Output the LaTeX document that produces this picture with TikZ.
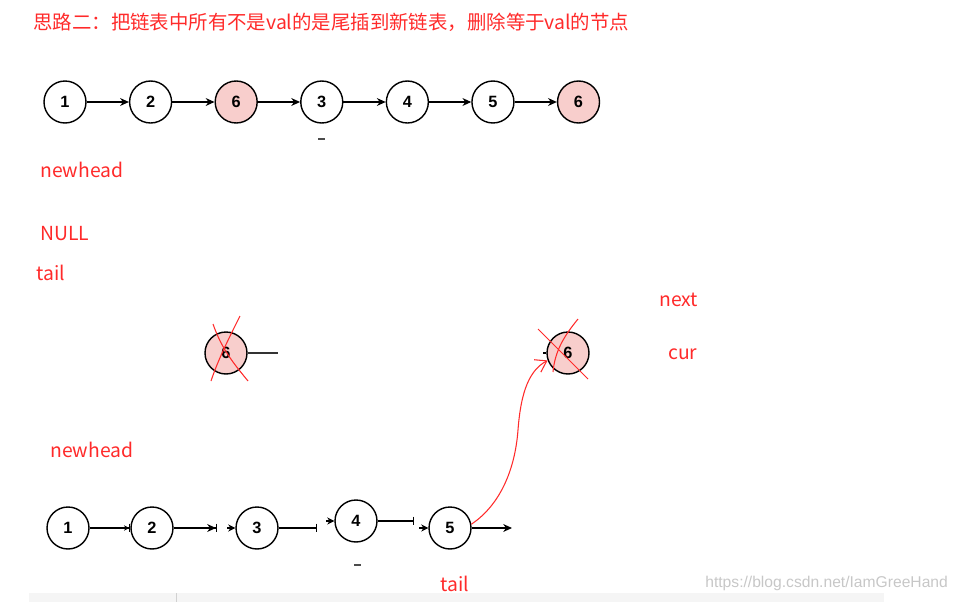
\documentclass[tikz,border=0pt]{standalone}
\usepackage{fontspec}
\setmainfont{Liberation Sans}
\newfontfamily\cjk{Noto Sans CJK SC}
\usepackage{tikz}
\usetikzlibrary{arrows.meta, positioning}
\definecolor{pen}{HTML}{FF2A2A}
\definecolor{delfill}{HTML}{F8CECC}

\begin{document}
\begin{tikzpicture}[x=0.02cm, y=-0.02cm, node distance=0.844cm,
  lnode/.style={circle, draw, line width=0.8pt, minimum size=0.84cm, inner sep=0pt, font=\bfseries\fontsize{9.3}{10}\selectfont},
  dnode/.style={lnode, fill=delfill},
  link/.style={-{Stealth[length=5pt,width=4.5pt]}, line width=0.6pt},
  stub/.style={-{Stealth[length=4pt,width=4pt]}, line width=0.6pt},
  note/.style={text=pen, font=\cjk\fontsize{11}{13}\selectfont, anchor=west, inner sep=0pt},
  cross/.style={pen, line width=0.6pt}]
\useasboundingbox (0,0) rectangle (958,602);

\node[note, font=\cjk\fontsize{11.05}{13}\selectfont] (title) at (33,22) {思路二：把链表中所有不是val的是尾插到新链表，删除等于val的节点};

\node[lnode] (a1) at (65,102) {1};
\node[lnode, right=of a1] (a2) {2};
\node[dnode, right=of a2] (a3) {6};
\node[lnode, right=of a3] (a4) {3};
\node[lnode, right=of a4] (a5) {4};
\node[lnode, right=of a5] (a6) {5};
\node[dnode, right=of a6] (a7) {6};
\draw[link] (a1) -- (a2);
\draw[link] (a2) -- (a3);
\draw[link] (a3) -- (a4);
\draw[link] (a4) -- (a5);
\draw[link] (a5) -- (a6);
\draw[link] (a6) -- (a7);
\draw[line width=1.5pt, black!70] (318,139) -- (325,139);

\node[note] (head1) at (40,170) {newhead};
\node[note] (null) at (40,234) {NULL};
\node[note] (tail1) at (36,273) {tail};
\node[note] (next) at (659,300) {next};
\node[note] (cur) at (668,354) {cur};
\node[note] (head2) at (50,450) {newhead};
\node[note] (tail2) at (440,584) {tail};

\node[dnode] (d1) at (226,353) {6};
\coordinate (d1end) at (278,353);
\draw[line width=0.8pt, black!80] (d1) -- (d1end);
\draw[cross] (213,324) .. controls (222,350) and (235,365) .. (248,381);
\draw[cross] (240,316) .. controls (228,340) and (218,360) .. (211,381);

\node[dnode] (d2) at (568,353) {6};
\coordinate (s6) at (543,353);
\draw[line width=1pt] (s6) -- (d2);
\draw[cross] (538,329) -- (588,379);
\draw[cross] (578,319) .. controls (565,335) and (555,350) .. (553,372);

\node[lnode] (b1) at (68,528) {1};
\node[lnode] (b2) at (152,528) {2};
\node[lnode] (b3) at (257,528) {3};
\node[lnode] (b4) at (356,521) {4};
\node[lnode] (b5) at (450,528) {5};
\coordinate (c2) at (217,528);
\coordinate (c3) at (317,528);
\coordinate (c4) at (414,521);
\coordinate (c5) at (512,528);
\coordinate (s3) at (227,528);
\coordinate (s4) at (326,521);
\coordinate (s5) at (419,528);
\draw[-{Stealth[length=3pt,width=3pt]Bar[width=5pt]}, line width=0.6pt] (b1) -- (b2);
\draw[-{Stealth[length=5pt,width=4.5pt]Bar[width=5pt]}, line width=0.6pt] (b2) -- (c2);
\draw[-{Bar[width=5pt]}, line width=0.6pt] (b3) -- (c3);
\draw[-{Bar[width=5pt]}, line width=0.6pt] (b4) -- (c4);
\draw[link] (b5) -- (c5);
\draw[stub] (s3) -- (b3);
\draw[stub] (s4) -- (b4);
\draw[stub] (s5) -- (b5);
\draw[line width=1.5pt, black!70] (354,565) -- (361,565);

\draw[pen, line width=0.6pt, -{Straight Barb[length=6pt,width=8pt]}] (b5.10) .. controls (500,505) and (515,470) .. (518,430) .. controls (521,390) and (530,370) .. (d2.200);

\node[anchor=west, inner sep=0pt, text=black!22, font=\fontsize{8.9}{10}\selectfont] (mark) at (705,583) {https://blog.csdn.net/IamGreeHand};
\fill[black!4] (29,593) rectangle (884,602);
\draw[black!18] (176,593) -- (176,602);
\end{tikzpicture}
\end{document}
